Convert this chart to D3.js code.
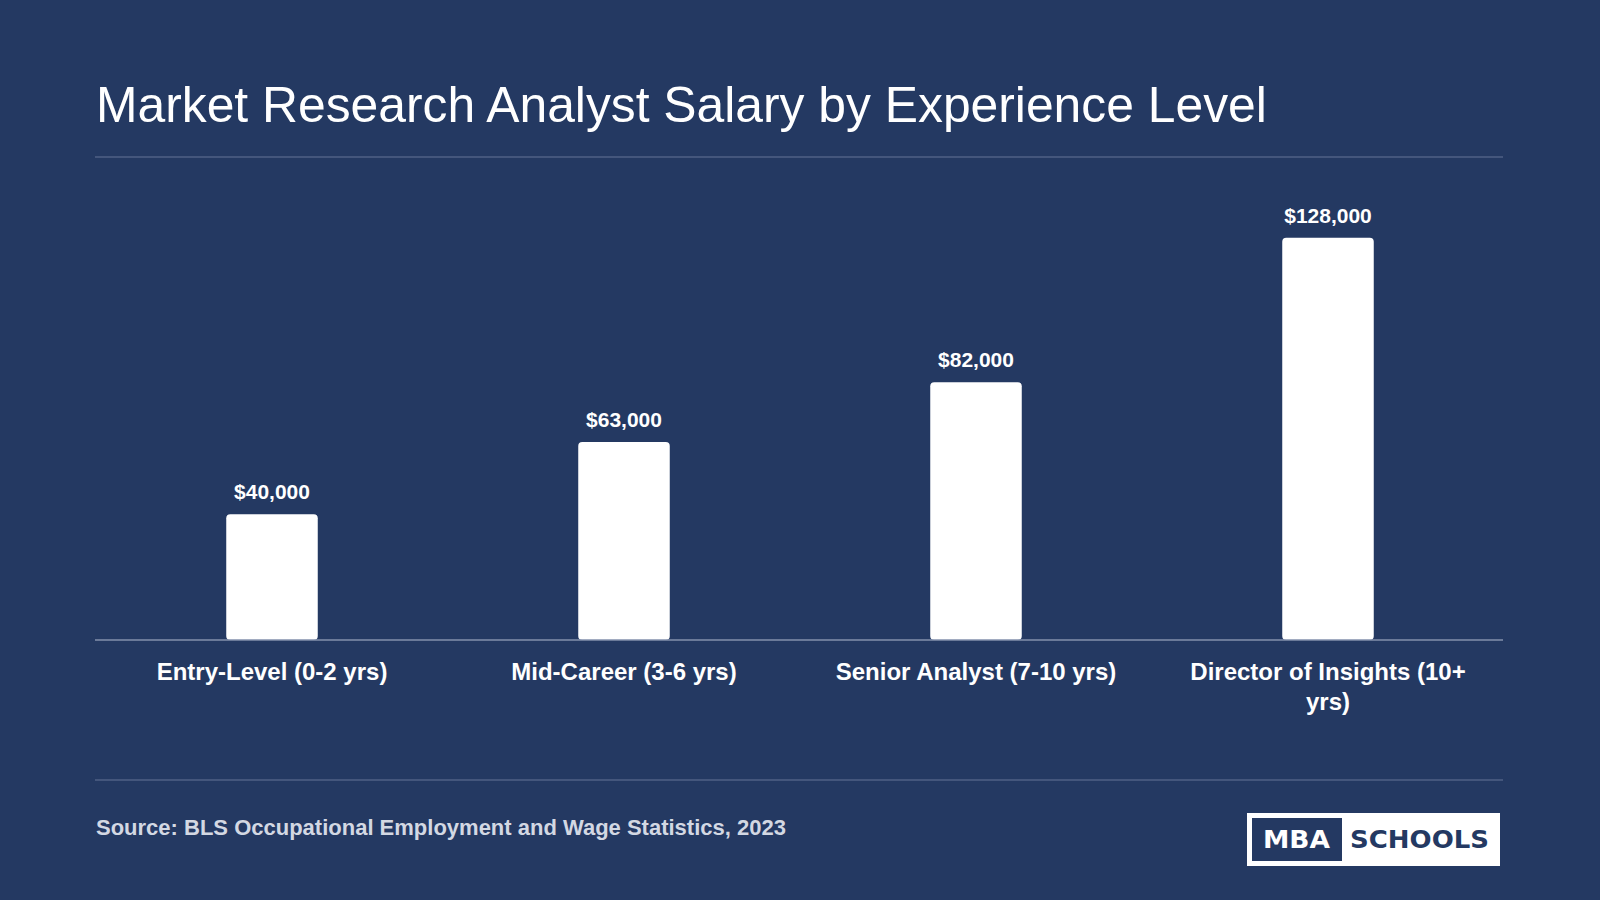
<!DOCTYPE html>
<html>
<head>
<meta charset="utf-8">
<script src="https://cdn.jsdelivr.net/npm/d3@7"></script>
<style>
  body{
    margin: 0;
    background: #243962;
  }
  svg text{
    font-family: "Liberation Sans", Arial, Helvetica, sans-serif;
  }
</style>
</head>
<body>
<svg id="chart" width="1600" height="900"></svg>
<script>
const categories = ["Entry-Level (0-2 yrs)", "Mid-Career (3-6 yrs)", "Senior Analyst (7-10 yrs)", "Director of Insights (10+ yrs)"];
const salaries = [40000, 63000, 82000, 128000];
const salaryLabels = ["$40,000", "$63,000", "$82,000", "$128,000"];

const title = "Market Research Analyst Salary by Experience Level";
const source = "Source: BLS Occupational Employment and Wage Statistics, 2023";

const svg = d3.select("#chart");
const left = 95, right = 1503;

svg.append("rect")
    .attr("width", 1600)
    .attr("height", 900)
    .attr("fill", "#243962");

// titre
svg.append("text")
    .attr("x", left + 1)
    .attr("y", 122)
    .attr("fill", "#ffffff")
    .style("font-size", "49.8px")
    .text(title);

svg.append("line")
    .attr("x1", left).attr("x2", right)
    .attr("y1", 157).attr("y2", 157)
    .attr("stroke", "#4f6186")
    .attr("stroke-width", 1.5);

const x = d3.scaleBand()
    .domain(categories)
    .range([left + 1, right + 1])
    .paddingInner(0.74)
    .paddingOuter(0.37);

const y = d3.scaleLinear()
    .domain([0, 140000])
    .range([640, 200]);

svg.append("g")
    .selectAll("rect")
    .data(salaries)
    .join("rect")
    .attr("x", (d, i) => x(categories[i]))
    .attr("y", d => y(d))
    .attr("width", x.bandwidth())
    .attr("height", d => y(0) - y(d))
    .attr("rx", 4)
    .attr("fill", "#ffffff");

svg.append("g")
    .selectAll("text")
    .data(salaries)
    .join("text")
    .attr("x", (d, i) => x(categories[i]) + x.bandwidth() / 2)
    .attr("y", d => y(d) - 15)
    .attr("text-anchor", "middle")
    .attr("fill", "#ffffff")
    .style("font-size", "21px")
    .style("font-weight", "bold")
    .text((d, i) => salaryLabels[i]);

// axe du bas
const axis = svg.append("g")
    .attr("transform", `translate(0,${y(0)})`)
    .call(d3.axisBottom(x).tickSize(0).tickPadding(40));

axis.select(".domain")
    .attr("stroke", "#8390ad")
    .attr("stroke-width", 1.5)
    .attr("d", `M${left},0H${right}`);

axis.selectAll(".tick text")
    .attr("fill", "#ffffff")
    .style("font-size", "24px")
    .style("font-weight", "bold")
    .style("font-family", "\"Liberation Sans\", Arial, sans-serif")
    .call(wrap, 300);

function wrap(texts, width) {
    texts.each(function () {
        const text = d3.select(this);
        const words = text.text().split(/\s+/);
        const yPos = text.attr("y");
        text.text(null);
        let line = [];
        let lineNumber = 0;
        let tspan = text.append("tspan").attr("x", 0).attr("y", yPos).attr("dy", "0px");
        words.forEach(word => {
            line.push(word);
            tspan.text(line.join(" "));
            if (tspan.node().getComputedTextLength() > width && line.length > 1) {
                line.pop();
                tspan.text(line.join(" "));
                line = [word];
                lineNumber++;
                tspan = text.append("tspan").attr("x", 0).attr("y", yPos).attr("dy", lineNumber * 30 + "px").text(word);
            }
        });
    });
}

svg.append("line")
    .attr("x1", left).attr("x2", right)
    .attr("y1", 780).attr("y2", 780)
    .attr("stroke", "#4f6186")
    .attr("stroke-width", 1.5);

svg.append("text")
    .attr("x", left + 1)
    .attr("y", 835)
    .attr("fill", "#d3d8e3")
    .style("font-size", "22px")
    .style("font-weight", "bold")
    .text(source);

// logo
const logo = svg.append("g").attr("transform", "translate(1247,813)");
logo.append("rect")
    .attr("width", 253).attr("height", 53)
    .attr("fill", "#ffffff");
logo.append("rect")
    .attr("x", 5).attr("y", 5)
    .attr("width", 90).attr("height", 43)
    .attr("fill", "#243962");
logo.append("text")
    .attr("x", 16).attr("y", 35)
    .attr("fill", "#ffffff")
    .attr("textLength", 67)
    .attr("lengthAdjust", "spacingAndGlyphs")
    .style("font-family", "\"DejaVu Sans\", sans-serif")
    .style("font-size", "25px")
    .style("font-weight", "bold")
    .text("MBA");
logo.append("text")
    .attr("x", 103).attr("y", 35)
    .attr("fill", "#243962")
    .attr("textLength", 139)
    .attr("lengthAdjust", "spacingAndGlyphs")
    .style("font-family", "\"DejaVu Sans\", sans-serif")
    .style("font-size", "25px")
    .style("font-weight", "bold")
    .text("SCHOOLS");
</script>
</body>
</html>
